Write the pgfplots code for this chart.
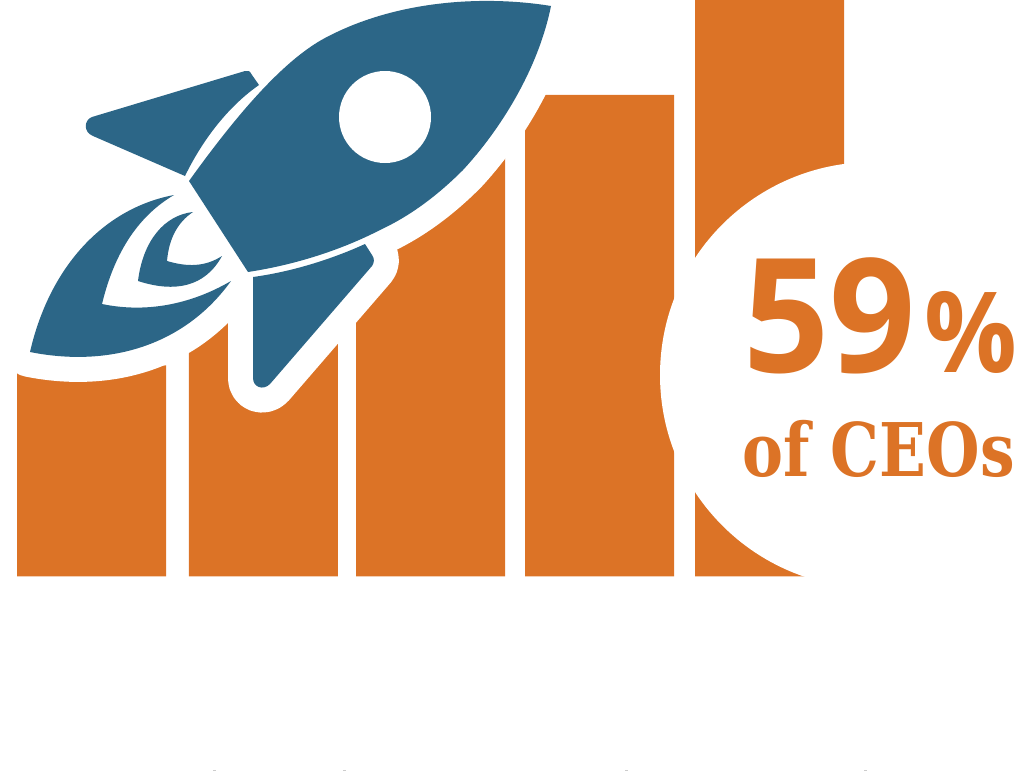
\documentclass[border=0pt]{standalone}
\usepackage{pgfplots}
\pgfplotsset{compat=1.18}
\usepackage{fontspec}
\setmainfont{Liberation Sans}
\newfontfamily\numfont[FakeStretch=0.95]{Open Sans}
\newfontfamily\pctfont[FakeStretch=0.92]{Open Sans}
\newfontfamily\slabfont[FakeStretch=0.83]{DejaVu Serif}
\definecolor{barorange}{RGB}{220,115,38}
\definecolor{rocketblue}{RGB}{44,102,135}
% outlines of the rocket parts
\newcommand\rocketbody{(551,6) .. controls (490,-4) and (400,-2) .. (325,38)
  .. controls (285,59.5) and (240,110) .. (189,181) -- (248,272)
  .. controls (300,264) and (345,248) .. (380,230)
  .. controls (410,216) and (437,196) .. (463,170)
  .. controls (500,130) and (538,70) .. (551,6) -- cycle}
\newcommand\topfin{(245,71) -- (92,117) .. controls (84,120) and (83,132) .. (93,136)
  -- (185,176) .. controls (201,143) and (226,108) .. (259,85) -- (252,75)
  .. controls (250,71) and (248,70) .. (245,71) -- cycle}
\newcommand\lowfin{(253,277) .. controls (290,272) and (330,260) .. (365,244) -- (372,255)
  .. controls (375,259) and (374,263) .. (372,266) -- (270,384)
  .. controls (263,391) and (253,387) .. (253,378) -- cycle}
\newcommand\outerflame{(174,195) .. controls (105,208) and (50,265) .. (30,352)
  .. controls (110,368) and (185,345) .. (231,281)
  .. controls (190,305) and (145,313) .. (102,304)
  .. controls (115,250) and (140,215) .. (174,195) -- cycle}
\newcommand\innerflame{(193,212) .. controls (165,215) and (143,240) .. (138,281)
  .. controls (175,293) and (205,287) .. (222,256)
  .. controls (205,267) and (187,267) .. (167,261)
  .. controls (169,238) and (178,222) .. (193,212) -- cycle}
\begin{document}
\begin{tikzpicture}
% growth bars, heights measured up from the common baseline
\begin{axis}[
  scale only axis, width=1016pt, height=771pt, at={(0,0)}, anchor=south west,
  xmin=0, xmax=1016, ymin=-194.5, ymax=576.5, hide axis, clip=true]
\addplot[ybar, bar width=149, fill=barorange, draw=none] coordinates {
  (91.5,211) (263.25,255) (430.5,420) (599.5,481.5) (769.5,576.5)};
\end{axis}
% rocket, exhaust and percentage badge, laid out with y running downwards
\begin{axis}[
  scale only axis, width=1016pt, height=771pt, at={(0,0)}, anchor=south west,
  xmin=0, xmax=1016, ymin=0, ymax=771, y dir=reverse, hide axis]
\begin{scope}
\clip (0,0) rectangle (1016,771);
% white keyline separating the rocket from the bars
\path[draw=white, fill=white, line width=50pt, line join=round]
  \rocketbody \topfin \lowfin \outerflame;
\fill[rocketblue] \rocketbody;
\fill[rocketblue] \topfin;
\fill[rocketblue] \lowfin;
\fill[rocketblue] \outerflame;
\fill[rocketblue] \innerflame;
\fill[white] (385,117) circle[radius=46pt];
% badge
\fill[white] (873,375) circle[radius=213pt];
\node[anchor=base west, inner sep=0pt, text=barorange] at (743,372)
  {\fontsize{159}{159}\selectfont\numfont\bfseries 59};
\node[anchor=base west, inner sep=0pt, text=barorange] at (924,372)
  {\fontsize{112}{112}\selectfont\pctfont\bfseries\%};
\node[anchor=base west, inner sep=0pt, text=barorange] at (742,476)
  {\fontsize{74}{74}\selectfont\slabfont\bfseries of CEOs};
% tops of the line of lettering under the chart
\fill[black!20] (213,769.5) rectangle (216,771);
\fill[black!20] (343,769.5) rectangle (346,771);
\fill[black!20] (625,769.5) rectangle (628,771);
\fill[black!20] (864,769.5) rectangle (867,771);
\end{scope}
\end{axis}
\end{tikzpicture}
\end{document}
